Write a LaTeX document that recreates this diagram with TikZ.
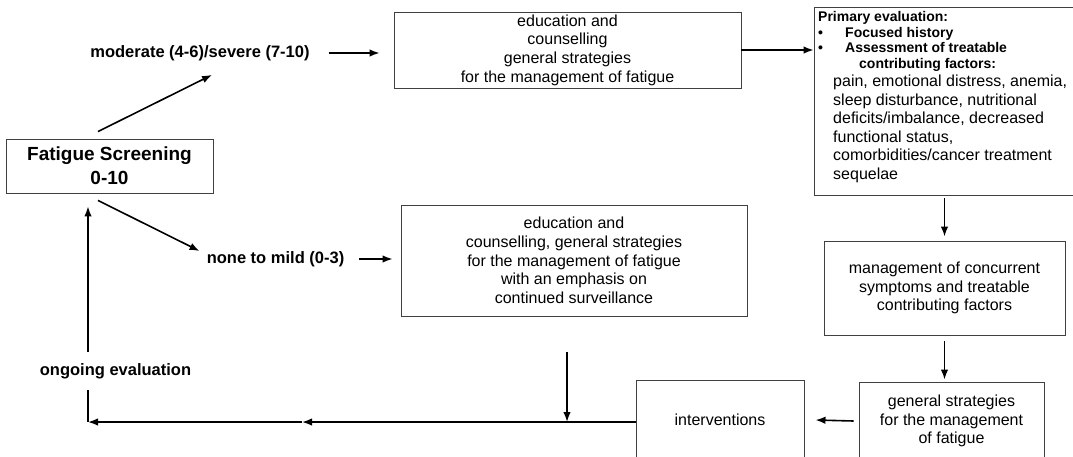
\documentclass[tikz,border=0pt]{standalone}
\usepackage{fontspec}
\setmainfont{Liberation Sans}
\usetikzlibrary{arrows.meta,calc}

\begin{document}
\begin{tikzpicture}[x=1pt, y=-1pt, color = {black},
    box/.style = {draw=black!75, line width=0.9pt, inner sep=1pt, align=center, font=\fontsize{16}{18.7}\selectfont},
    lbl/.style = {font=\bfseries\fontsize{16.5}{20}\selectfont, inner sep=0pt},
    arr/.style = {line width=1.6pt, -{Latex[length=10pt,width=7.5pt]}}]
    \useasboundingbox (0,0) rectangle (1073,456);
    \node[box, minimum width=207, minimum height=54, font=\bfseries\fontsize{19}{24}\selectfont] (screen) at (109.5,166) {Fatigue Screening\\0-10};
    \node[lbl] (moderate) at (200,53) {moderate (4-6)/severe (7-10)};
    \node[lbl] (none) at (275.5,259) {none to mild (0-3)};
    \node[lbl] (ongoing) at (115.5,371) {ongoing evaluation};
    \node[box, minimum width=347, minimum height=76] (edu1) at (567.5,50) {education and\\counselling\\general strategies\\for the management of fatigue};
    \node[box, minimum width=346, minimum height=111] (edu2) at (574,260.5) {education and\\counselling, general strategies\\for the management of fatigue\\with an emphasis on\\continued surveillance};
    \node[box, minimum width=270, minimum height=188] (primary) at (949,101) {};
    \node[anchor=north west, inner sep=0pt, align=left, font=\fontsize{16}{18.5}\selectfont] (primtext) at (818,11.5) {%
        {\bfseries\fontsize{14}{14}\selectfont Primary evaluation:}\\[-3pt]
        {\bfseries\fontsize{14}{14}\selectfont\makebox[27pt][l]{\textbullet}Focused history}\\[-3pt]
        {\bfseries\fontsize{14}{14}\selectfont\makebox[27pt][l]{\textbullet}Assessment of treatable}\\[-3pt]
        {\bfseries\fontsize{14}{14}\selectfont\hspace*{41pt}contributing factors:}\\[-0.2pt]
        \hspace*{15pt}pain, emotional distress, anemia,\\
        \hspace*{15pt}sleep disturbance, nutritional\\
        \hspace*{15pt}deficits/imbalance, decreased\\
        \hspace*{15pt}functional status,\\
        \hspace*{15pt}comorbidities/cancer treatment\\
        \hspace*{15pt}sequelae};
    \node[box, minimum width=241, minimum height=94] (manage) at (944.5,288) {management of concurrent\\symptoms and treatable\\contributing factors};
    \node[box, minimum width=185, minimum height=78] (general) at (951.5,421) {general strategies\\for the management\\of fatigue};
    \node[box, minimum width=168, minimum height=80] (interv) at (720,420) {interventions};
    \coordinate (join) at (302,422);
    \coordinate (corner) at (88,422);

    \draw[arr] ($(screen.north)+(-11.5,-7)$) -- ($(moderate.south)+(12,14)$);
    \draw[arr] ($(moderate.east)+(19,0)$) -- ($(moderate.east -| edu1.west)+(-14,0)$);
    \draw[arr] (edu1.east) -- (edu1.east -| primary.west);
    \draw[arr] ($(manage.north |- primary.south)+(0,3)$) -- ($(manage.north)+(0,-4)$);
    \draw[arr] ($(manage.south)+(0,6)$) -- ($(manage.south |- general.north)+(0,-2)$);
    \draw[arr] ($(general.west)+(-5,0)$) -- ($(interv.east)+(11,0)$);
    \draw[arr] (interv.west |- join) -- (join);
    \draw[arr] (join) -- (corner);
    \draw[arr] ($(edu2.south)+(-7,36)$) -- ($(edu2.south |- join)+(-7,0)$);
    \draw[line width=1.6pt] (corner) -- ($(corner |- ongoing.south)+(0,11)$);
    \draw[arr] ($(corner |- ongoing.north)+(0,-11)$) -- ($(corner |- screen.south)+(0,13)$);
    \draw[arr] ($(screen.south)+(-11.5,7)$) -- ($(none.west)+(-7,-8)$);
    \draw[arr] ($(none.east)+(15,0)$) -- ($(none.east -| edu2.west)+(-8,0)$);
\end{tikzpicture}
\end{document}
